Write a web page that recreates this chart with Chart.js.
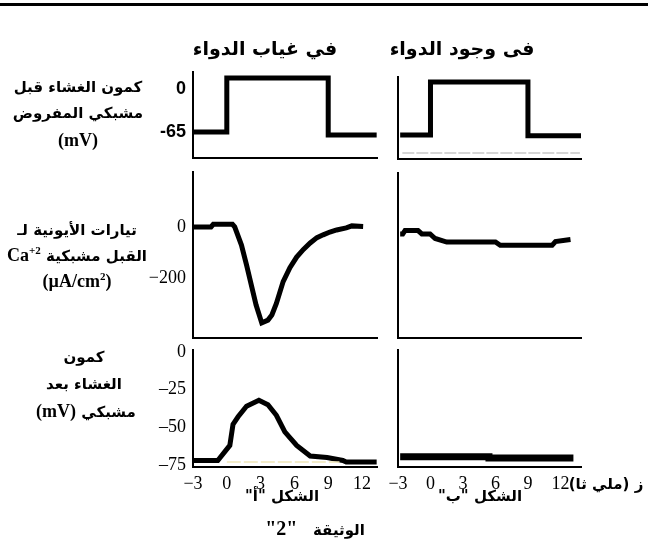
<!DOCTYPE html>
<html>
<head>
<meta charset="utf-8">
<script src="https://cdn.jsdelivr.net/npm/chart.js@4.4.0/dist/chart.umd.min.js"></script>
<style>
    body { margin: 0; background: #fff; width: 648px; height: 544px; overflow: hidden; position: relative; }
    canvas { position: absolute; left: 0; top: 0; }
    .topline { position: absolute; left: 0; top: 3px; width: 648px; height: 3px; background: #000; }
    .t { position: absolute; font-family: "DejaVu Sans", sans-serif; font-weight: bold; color: #000;
         white-space: nowrap; direction: rtl; transform: translate(-50%, -50%); font-size: 15px; }
    .title { font-size: 19px; }
    .lat { font-family: "Liberation Serif", serif; font-size: 18px; }
    sup { font-size: 11px; }
</style>
</head>
<body>
<div class="topline"></div>
<canvas id="preA" width="648" height="544"></canvas>
<canvas id="preB" width="648" height="544"></canvas>
<canvas id="caA" width="648" height="544"></canvas>
<canvas id="caB" width="648" height="544"></canvas>
<canvas id="postA" width="648" height="544"></canvas>
<canvas id="postB" width="648" height="544"></canvas>

<div class="t title" style="left:265px;top:48px">في غياب الدواء</div>
<div class="t title" style="left:462px;top:48px">فى وجود الدواء</div>

<div class="t" style="left:78px;top:87px">كمون الغشاء قبل</div>
<div class="t" style="left:78px;top:113px">مشبكي المفروض</div>
<div class="t lat" style="left:78px;top:140px">(mV)</div>

<div class="t" style="left:77px;top:230px">تيارات الأيونية لـ</div>
<div class="t" style="left:77px;top:255px">القبل مشبكية <bdi class="lat" dir="ltr">Ca<sup>+2</sup></bdi></div>
<div class="t lat" style="left:77px;top:281px"><bdi dir="ltr">(µA/cm<sup>2</sup>)</bdi></div>

<div class="t" style="left:84px;top:357px">كمون</div>
<div class="t" style="left:84px;top:384px">الغشاء بعد</div>
<div class="t" style="left:86px;top:411px">مشبكي <bdi class="lat" dir="ltr">(mV)</bdi></div>

<div class="t" style="left:282px;top:496px">الشكل "أ"</div>
<div class="t" style="left:480px;top:496px">الشكل "ب"</div>
<div class="t" style="left:315px;top:528px">الوثيقة &nbsp; <span class="lat" style="font-size:20px">"2"</span></div>
<div class="t" style="left:606px;top:484px">ز (ملي ثا)</div>

<script>
// values (time in ms)
const preTimeA = [-3, 0, 0, 9, 9, 13.3];
const preAbsent = [-65, -65, 16.6, 16.6, -69.5, -69.5];
const preTimeB = [-2.8, 0, 0, 9, 9, 13.9];
const prePresent = [-65, -65, 0, 0, -66, -66];
const preBaseTime = [-2.6, 13.8];
const preBase = [-87, -87];

const caTimeA = [-3, -1.4, -1.2, 0.5, 0.7, 1.3, 1.75, 2.6, 3.1, 3.65, 4.0, 4.4, 5.0, 5.6, 6.2, 6.8, 7.4, 8.0, 8.55, 9.15, 9.75, 10.6, 11.1, 12.1];
const caAbsent = [0, 0, 10, 10, 0, -71, -149, -306, -376, -365, -345, -300, -214, -160, -118, -88, -63, -42, -31, -20, -12, -4, 4, 2];
const caTimeB = [-2.8, -2.56, -2.35, -1.15, -0.8, -0.04, 0.43, 1.5, 6.0, 6.44, 11.23, 11.54, 12.93];
const caPresent = [-25, -25, -12, -12, -25, -25, -43, -57, -57, -70, -70, -55, -47];

const postTimeA = [-3, -0.8, 0.27, 0.55, 1.0, 1.75, 2.85, 3.65, 4.4, 5.15, 6.2, 7.4, 8.9, 10.3, 10.6, 13.3];
const postAbsent = [-72, -72, -62, -48, -43, -36, -32, -35, -42, -53, -62, -69, -70, -72, -73, -73];
const postTimeB = [-2.8, 5.4, 5.4, 13.2];
const postPresent = [-69.5, -69.5, -70.3, -70.3];
const postBaseTime = [0, 10];
const postBase = [-73, -73];

const timeTicks = [-3, 0, 3, 6, 9, 12];
const timeTickLabels = ['\u22123', '0', '3', '6', '9', '12'];
const preTicks = [0, -65];
const preTickLabels = ['0', '-65'];
const caTicks = [0, -200];
const caTickLabels = ['0', '\u2212200'];
const postTicks = [0, -25, -50, -75];
const postTickLabels = ['0', '\u201325', '\u201350', '\u201375'];

function pts(xs, ys) {
    return xs.map((x, i) => ({ x: x, y: ys[i] }));
}

function panel(id, box, xr, yr, sets, yTicks, xTicks) {
    const yW = yTicks ? 50 : 0;
    const xH = xTicks ? 30 : 0;
    new Chart(document.getElementById(id), {
        type: 'line',
        data: {
            datasets: sets.map(s => Object.assign({
                pointRadius: 0, borderColor: '#000', borderWidth: 5, tension: 0, clip: false, fill: false
            }, s))
        },
        options: {
            responsive: false, animation: false, events: [],
            layout: {
                autoPadding: false,
                padding: { left: box[0] - yW, top: box[1], right: 648 - box[2], bottom: 544 - box[3] - xH }
            },
            plugins: { legend: { display: false }, tooltip: { enabled: false } },
            scales: {
                x: {
                    type: 'linear', min: xr[0], max: xr[1],
                    grid: { display: false, drawTicks: false },
                    border: { display: true, color: '#000', width: 2 },
                    afterBuildTicks: s => { if (xTicks) s.ticks = xTicks[0].map(v => ({ value: v })); },
                    afterFit: s => { s.height = xH; s.paddingLeft = s.paddingRight = 0; },
                    ticks: {
                        display: !!xTicks, padding: 6, maxRotation: 0, autoSkip: false,
                        color: '#000', font: { family: 'Liberation Serif', size: 18 },
                        callback: v => xTicks ? xTicks[1][xTicks[0].indexOf(v)] : ''
                    }
                },
                y: {
                    type: 'linear', min: yr[0], max: yr[1],
                    grid: { display: false, drawTicks: false },
                    border: { display: true, color: '#000', width: 2 },
                    afterBuildTicks: s => { if (yTicks) s.ticks = yTicks[0].map(v => ({ value: v })); },
                    afterFit: s => { s.width = yW; s.paddingTop = s.paddingBottom = 0; },
                    ticks: {
                        display: !!yTicks, padding: 7, autoSkip: false, color: '#000',
                        font: yTicks ? yTicks[2] : {},
                        callback: v => yTicks ? yTicks[1][yTicks[0].indexOf(v)] : ''
                    }
                }
            }
        }
    });
}

const sansBold = { family: 'Liberation Sans', size: 18, weight: 'bold' };
const serif = { family: 'Liberation Serif', size: 18 };

panel('preA', [193, 72, 377, 158], [-3, 13.33], [-104.3, 25.7],
    [{ data: pts(preTimeA, preAbsent) }], [preTicks, preTickLabels, sansBold], null);
panel('preB', [398, 77, 581, 159], [-3, 13.9], [-94.4, 6.1],
    [{ data: pts(preTimeB, prePresent) },
     { data: pts(preBaseTime, preBase), borderColor: '#c8c8c8', borderWidth: 1.5, borderDash: [12, 2] }], null, null);

panel('caA', [193, 172, 377, 338], [-3, 13.33], [-435, 215],
    [{ data: pts(caTimeA, caAbsent) }], [caTicks, caTickLabels, serif], null);
panel('caB', [398, 173, 581, 338], [-3, 13.9], [-435, 215],
    [{ data: pts(caTimeB, caPresent) }], null, null);

panel('postA', [193, 350, 377, 467], [-3, 13.33], [-76.33, 1.33],
    [{ data: pts(postBaseTime, postBase), borderColor: '#efe6b8', borderWidth: 1.5, borderDash: [14, 3] },
     { data: pts(postTimeA, postAbsent) }], [postTicks, postTickLabels, serif], [timeTicks, timeTickLabels]);
panel('postB', [398, 350, 581, 467], [-3, 13.9], [-76.33, 1.33],
    [{ data: pts(postTimeB, postPresent), borderWidth: 7 }], null, [timeTicks, timeTickLabels]);
</script>
</body>
</html>
